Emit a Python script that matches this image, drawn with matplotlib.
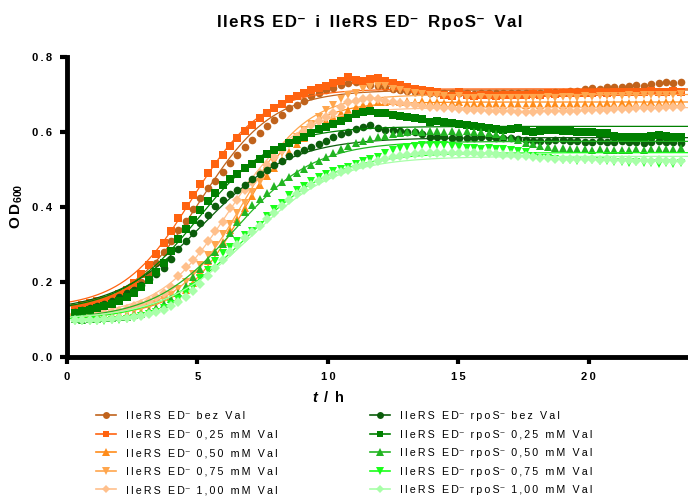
import numpy as np
import matplotlib
matplotlib.use("Agg")
import matplotlib.pyplot as plt
from matplotlib.lines import Line2D

plt.rcParams['font.family'] = ['Liberation Sans', 'DejaVu Sans']
plt.rcParams['mathtext.fontset'] = 'custom'
plt.rcParams['mathtext.rm'] = 'Liberation Sans:bold'
plt.rcParams['mathtext.bf'] = 'Liberation Sans:bold'
plt.rcParams['mathtext.it'] = 'Liberation Sans:bold:italic'

# readings every 17 min, first at 0.3 h
time = 0.3 + np.arange(83) * 17 / 60

ed_0 = [0.128, 0.130, 0.133, 0.136, 0.140, 0.146, 0.155, 0.166, 0.182, 0.200, 0.222, 0.250, 0.280, 0.310, 0.338,
        0.364, 0.396, 0.424, 0.450, 0.470, 0.494, 0.518, 0.540, 0.560, 0.578, 0.598, 0.617, 0.632, 0.645, 0.663,
        0.672, 0.684, 0.695, 0.703, 0.712, 0.718, 0.725, 0.730, 0.734, 0.730, 0.726, 0.722, 0.719, 0.716, 0.713,
        0.710, 0.708, 0.706, 0.704, 0.705, 0.703, 0.704, 0.703, 0.704, 0.702, 0.704, 0.703, 0.704, 0.703, 0.705,
        0.704, 0.703, 0.705, 0.704, 0.705, 0.706, 0.707, 0.709, 0.710, 0.714, 0.717, 0.716, 0.720, 0.721, 0.720,
        0.722, 0.725, 0.724, 0.727, 0.732, 0.734, 0.731, 0.734]
ed_025 = [0.130, 0.140, 0.145, 0.150, 0.152, 0.158, 0.168, 0.180, 0.198, 0.222, 0.245, 0.275, 0.305, 0.335, 0.370,
          0.402, 0.433, 0.462, 0.490, 0.514, 0.540, 0.562, 0.583, 0.602, 0.620, 0.638, 0.652, 0.665, 0.676, 0.688,
          0.697, 0.705, 0.712, 0.717, 0.722, 0.730, 0.737, 0.746, 0.740, 0.737, 0.742, 0.744, 0.736, 0.730, 0.725,
          0.720, 0.716, 0.712, 0.710, 0.708, 0.700, 0.695, 0.708, 0.700, 0.695, 0.700, 0.699, 0.697, 0.699, 0.700,
          0.699, 0.700, 0.702, 0.700, 0.704, 0.702, 0.704, 0.703, 0.705, 0.704, 0.704, 0.706, 0.705, 0.707, 0.706,
          0.708, 0.707, 0.708, 0.709, 0.708, 0.708, 0.709, 0.708]
ed_050 = [0.112, 0.110, 0.110, 0.111, 0.112, 0.113, 0.114, 0.116, 0.118, 0.121, 0.125, 0.130, 0.136, 0.145, 0.158,
          0.180, 0.198, 0.226, 0.256, 0.280, 0.306, 0.338, 0.368, 0.398, 0.430, 0.458, 0.482, 0.505, 0.525, 0.548,
          0.567, 0.585, 0.602, 0.617, 0.630, 0.641, 0.652, 0.660, 0.667, 0.672, 0.676, 0.680, 0.681, 0.682, 0.681,
          0.683, 0.680, 0.682, 0.679, 0.681, 0.678, 0.677, 0.679, 0.676, 0.675, 0.677, 0.674, 0.676, 0.673, 0.675,
          0.674, 0.673, 0.675, 0.672, 0.674, 0.675, 0.673, 0.675, 0.674, 0.676, 0.674, 0.676, 0.677, 0.675, 0.677,
          0.678, 0.676, 0.678, 0.679, 0.678, 0.680, 0.679, 0.680]
ed_075 = [0.110, 0.109, 0.110, 0.111, 0.112, 0.114, 0.116, 0.119, 0.123, 0.128, 0.134, 0.142, 0.152, 0.165, 0.182,
          0.200, 0.222, 0.246, 0.272, 0.300, 0.328, 0.356, 0.384, 0.412, 0.440, 0.468, 0.495, 0.520, 0.545, 0.568,
          0.588, 0.606, 0.622, 0.640, 0.658, 0.672, 0.688, 0.698, 0.705, 0.714, 0.720, 0.724, 0.722, 0.716, 0.712,
          0.708, 0.705, 0.702, 0.700, 0.698, 0.695, 0.692, 0.695, 0.692, 0.690, 0.693, 0.691, 0.690, 0.692, 0.690,
          0.691, 0.692, 0.690, 0.692, 0.693, 0.691, 0.693, 0.694, 0.692, 0.695, 0.694, 0.696, 0.695, 0.697, 0.696,
          0.698, 0.697, 0.699, 0.698, 0.700, 0.699, 0.700, 0.701]
ed_100 = [0.108, 0.110, 0.112, 0.114, 0.117, 0.120, 0.124, 0.129, 0.135, 0.142, 0.150, 0.160, 0.172, 0.186, 0.215,
          0.240, 0.260, 0.283, 0.310, 0.335, 0.360, 0.398, 0.420, 0.445, 0.468, 0.490, 0.512, 0.533, 0.552, 0.570,
          0.588, 0.603, 0.618, 0.630, 0.640, 0.652, 0.668, 0.680, 0.684, 0.688, 0.690, 0.688, 0.684, 0.680, 0.677,
          0.675, 0.672, 0.670, 0.668, 0.667, 0.665, 0.663, 0.662, 0.660, 0.659, 0.658, 0.657, 0.656, 0.655, 0.655,
          0.654, 0.654, 0.654, 0.655, 0.655, 0.656, 0.656, 0.657, 0.657, 0.658, 0.659, 0.659, 0.660, 0.661, 0.661,
          0.662, 0.663, 0.664, 0.664, 0.665, 0.666, 0.666, 0.667]

rpos_0 = [0.121, 0.126, 0.131, 0.136, 0.142, 0.150, 0.160, 0.170, 0.180, 0.193, 0.208, 0.222, 0.238, 0.262, 0.287,
          0.310, 0.332, 0.358, 0.380, 0.402, 0.420, 0.434, 0.446, 0.460, 0.474, 0.488, 0.500, 0.512, 0.524, 0.535,
          0.544, 0.552, 0.560, 0.568, 0.577, 0.586, 0.594, 0.601, 0.608, 0.614, 0.619, 0.612, 0.606, 0.605, 0.602,
          0.601, 0.600, 0.594, 0.588, 0.587, 0.586, 0.585, 0.583, 0.584, 0.583, 0.586, 0.587, 0.584, 0.583, 0.584,
          0.582, 0.578, 0.575, 0.577, 0.576, 0.578, 0.578, 0.576, 0.575, 0.574, 0.574, 0.575, 0.573, 0.574, 0.575,
          0.573, 0.574, 0.572, 0.574, 0.575, 0.573, 0.574, 0.572]
rpos_025 = [0.118, 0.122, 0.126, 0.130, 0.135, 0.141, 0.150, 0.160, 0.172, 0.188, 0.205, 0.226, 0.252, 0.284, 0.314,
            0.342, 0.366, 0.392, 0.416, 0.438, 0.458, 0.474, 0.489, 0.503, 0.516, 0.529, 0.541, 0.552, 0.561, 0.570,
            0.578, 0.587, 0.597, 0.607, 0.614, 0.622, 0.630, 0.637, 0.648, 0.654, 0.655, 0.652, 0.650, 0.645, 0.643,
            0.640, 0.638, 0.634, 0.628, 0.629, 0.627, 0.625, 0.621, 0.620, 0.616, 0.614, 0.610, 0.609, 0.605, 0.608,
            0.610, 0.604, 0.601, 0.603, 0.606, 0.605, 0.604, 0.602, 0.601, 0.600, 0.599, 0.598, 0.597, 0.590, 0.587,
            0.588, 0.586, 0.587, 0.589, 0.592, 0.590, 0.588, 0.587]
rpos_050 = [0.102, 0.100, 0.101, 0.102, 0.103, 0.104, 0.106, 0.108, 0.111, 0.116, 0.122, 0.130, 0.142, 0.156, 0.172,
            0.190, 0.213, 0.236, 0.258, 0.280, 0.302, 0.330, 0.360, 0.388, 0.405, 0.422, 0.438, 0.455, 0.467, 0.480,
            0.492, 0.502, 0.512, 0.522, 0.534, 0.545, 0.555, 0.563, 0.570, 0.577, 0.582, 0.587, 0.590, 0.594, 0.597,
            0.600, 0.603, 0.601, 0.604, 0.603, 0.601, 0.604, 0.600, 0.602, 0.599, 0.601, 0.598, 0.594, 0.590, 0.583,
            0.578, 0.572, 0.567, 0.563, 0.560, 0.558, 0.557, 0.555, 0.556, 0.554, 0.553, 0.555, 0.552, 0.551, 0.553,
            0.552, 0.554, 0.553, 0.555, 0.554, 0.556, 0.555, 0.557]
rpos_075 = [0.096, 0.095, 0.095, 0.096, 0.097, 0.098, 0.100, 0.102, 0.105, 0.109, 0.114, 0.121, 0.130, 0.142, 0.156,
            0.172, 0.188, 0.210, 0.232, 0.255, 0.277, 0.294, 0.310, 0.325, 0.337, 0.352, 0.375, 0.395, 0.410, 0.433,
            0.445, 0.455, 0.470, 0.480, 0.488, 0.495, 0.502, 0.508, 0.514, 0.522, 0.527, 0.534, 0.545, 0.552, 0.557,
            0.561, 0.563, 0.565, 0.565, 0.566, 0.565, 0.564, 0.561, 0.557, 0.558, 0.556, 0.557, 0.556, 0.554, 0.552,
            0.549, 0.546, 0.536, 0.532, 0.530, 0.527, 0.525, 0.526, 0.524, 0.525, 0.525, 0.524, 0.522, 0.521, 0.519,
            0.518, 0.519, 0.517, 0.518, 0.516, 0.517, 0.516, 0.517]
rpos_100 = [0.100, 0.099, 0.099, 0.100, 0.101, 0.102, 0.103, 0.105, 0.107, 0.110, 0.114, 0.119, 0.126, 0.135, 0.147,
            0.161, 0.177, 0.196, 0.216, 0.238, 0.260, 0.281, 0.300, 0.318, 0.334, 0.350, 0.368, 0.385, 0.402, 0.420,
            0.434, 0.446, 0.458, 0.469, 0.478, 0.486, 0.493, 0.500, 0.506, 0.511, 0.516, 0.522, 0.528, 0.533, 0.537,
            0.540, 0.542, 0.543, 0.544, 0.545, 0.544, 0.545, 0.544, 0.543, 0.544, 0.542, 0.543, 0.541, 0.540, 0.539,
            0.537, 0.535, 0.533, 0.531, 0.530, 0.529, 0.528, 0.529, 0.527, 0.528, 0.527, 0.526, 0.527, 0.525, 0.526,
            0.525, 0.524, 0.525, 0.524, 0.525, 0.524, 0.523, 0.524]

# logistic fit parameters: baseline, plateau, midpoint (h), rate (1/h)
fit_base = [0.12, 0.13, 0.11, 0.11, 0.11, 0.12, 0.12, 0.10, 0.095, 0.10]
fit_top = [0.712, 0.715, 0.680, 0.700, 0.665, 0.585, 0.615, 0.575, 0.545, 0.535]
fit_mid = [5.1, 4.8, 6.8, 6.7, 6.2, 5.2, 5.0, 6.4, 6.9, 7.0]
fit_rate = [0.72, 0.75, 0.85, 0.80, 0.75, 0.60, 0.68, 0.65, 0.60, 0.60]

sup = "\u207b"
thin = "\u2009"
hair = "\u200a"
def spaced(s, gap=thin):
    return gap.join(s)

gap_after = "  "
pre = spaced("IleRS ED") + sup + gap_after
labels_ed = [pre + spaced("bez Val"),
             pre + spaced("0,25 mM Val"),
             pre + spaced("0,50 mM Val"),
             pre + spaced("0,75 mM Val"),
             pre + spaced("1,00 mM Val")]
labels_rpos = [pre + spaced("rpoS") + sup + gap_after + spaced("bez Val"),
               pre + spaced("rpoS") + sup + gap_after + spaced("0,25 mM Val"),
               pre + spaced("rpoS") + sup + gap_after + spaced("0,50 mM Val"),
               pre + spaced("rpoS") + sup + gap_after + spaced("0,75 mM Val"),
               pre + spaced("rpoS") + sup + gap_after + spaced("1,00 mM Val")]
series = [ed_0, ed_025, ed_050, ed_075, ed_100, rpos_0, rpos_025, rpos_050, rpos_075, rpos_100]
colors = ["#C0631C", "#FF6310", "#FF8C1A", "#FFA64D", "#FFC08C",
          "#0B5D0B", "#008000", "#22B522", "#1AFF1A", "#A8FFA8"]
markers = ["o", "s", "^", "v", "D", "o", "s", "^", "v", "D"]
sizes = [5.5, 5.5, 6, 6, 4.8, 5.5, 5.5, 6, 6, 4.8]

fig = plt.figure(figsize=(6.88, 5.0), dpi=100)
ax = fig.add_axes([67 / 688, 143 / 500, 626 / 688, 300 / 500])

tfit = np.linspace(0, 24, 400)
for i in range(len(series)):
    ax.plot(time, series[i], linestyle="none", marker=markers[i], color=colors[i],
            markersize=sizes[i], markeredgewidth=0)
    yfit = fit_base[i] + (fit_top[i] - fit_base[i]) / (1 + np.exp(-fit_rate[i] * (tfit - fit_mid[i])))
    ax.plot(tfit, yfit, color=colors[i], lw=0.9)

ax.set_xlim(0, 24)
ax.set_ylim(0, 0.8)
for s in ["top", "right"]:
    ax.spines[s].set_visible(False)
for s in ["left", "bottom"]:
    ax.spines[s].set_linewidth(3.5)
ax.tick_params(width=3, length=5, direction="out", labelsize=8, pad=6)
ax.set_xticks([0, 5, 10, 15, 20])
ax.set_xticklabels([spaced(x) for x in ["0", "5", "10", "15", "20"]], fontweight="bold")
ax.set_yticks([0, 0.2, 0.4, 0.6, 0.8])
ax.set_yticklabels([spaced(x) for x in ["0.0", "0.2", "0.4", "0.6", "0.8"]], fontweight="bold")

title = (spaced("IleRS ED", hair) + sup + "  i  " + spaced("IleRS ED", hair) + sup + "  "
         + spaced("RpoS", hair) + sup + "  " + spaced("Val", hair))
fig.text(370 / 688, 1 - 22 / 500, title, ha="center", va="center", fontsize=12.2, fontweight="bold")
fig.text(17 / 688, 1 - 206 / 500, "O" + thin + "D$_{\\mathrm{600}}$", rotation=90, ha="center", va="center",
         fontsize=11, fontweight="bold")
fig.text(328 / 688, 1 - 398 / 500, "$\\mathit{t}$" + thin + " / " + thin + "h", ha="center", va="center",
         fontsize=10.5, fontweight="bold")

handles = [Line2D([0], [0], color=colors[i], marker=markers[i], markersize=sizes[i] - 0.5,
                  markeredgewidth=0, lw=1.2) for i in range(len(series))]
leg_kw = dict(loc="upper left", frameon=False, fontsize=7.7, handlelength=1.9, labelspacing=0.8,
              handletextpad=0.95, borderpad=0, borderaxespad=0)
fig.legend(handles[:5], labels_ed, bbox_to_anchor=(96 / 688, 1 - 411 / 500), **leg_kw)
fig.legend(handles[5:], labels_rpos, bbox_to_anchor=(370 / 688, 1 - 411 / 500), **leg_kw)

fig.savefig("out.png", dpi=100)
